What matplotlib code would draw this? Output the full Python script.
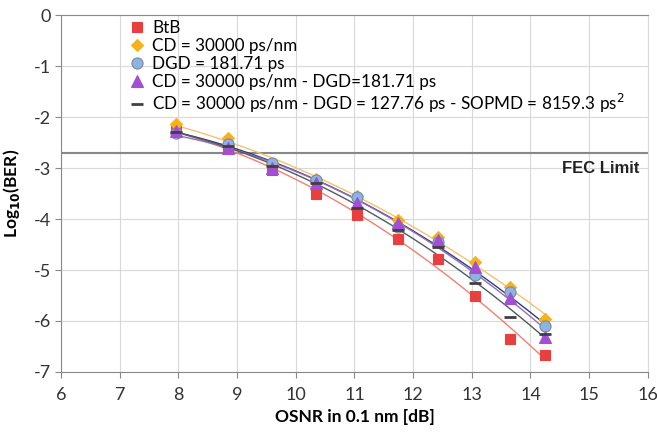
import numpy as np
import matplotlib.pyplot as plt

# OSNR values (dB) shared by all series
osnr = [7.95, 8.85, 9.6, 10.35, 11.05, 11.75, 12.42, 13.05, 13.65, 14.25]

ber_btb = [-2.28, -2.6, -3.04, -3.51, -3.92, -4.39, -4.78, -5.51, -6.35, -6.67]
ber_cd = [-2.14, -2.41, -2.92, -3.22, -3.55, -4.02, -4.35, -4.84, -5.33, -5.96]
ber_dgd = [-2.31, -2.53, -2.9, -3.24, -3.57, -4.16, -4.45, -5.1, -5.43, -6.1]
ber_cd_dgd = [-2.27, -2.61, -3.0, -3.3, -3.69, -4.08, -4.41, -4.94, -5.55, -6.31]
ber_cd_dgd_sopmd = [-2.3, -2.57, -2.95, -3.3, -3.78, -4.22, -4.55, -5.25, -5.92, -6.25]

fec_limit = -2.7

labels = [
    "BtB",
    "CD = 30000 ps/nm",
    "DGD = 181.71 ps",
    "CD = 30000 ps/nm - DGD=181.71 ps",
    "CD = 30000 ps/nm - DGD = 127.76 ps - SOPMD = 8159.3 ps$^2$",
]

series = [ber_btb, ber_cd, ber_dgd, ber_cd_dgd, ber_cd_dgd_sopmd]
styles = [
    dict(marker="s", color="#e8403f", mec="#e8403f", ms=7, line="#f08070"),
    dict(marker="D", color="#f5b21e", mec="#f5b21e", ms=6, line="#f7c070"),
    dict(marker="o", color="#8db3e2", mec="#7a8aa0", ms=8, line="#2f3d78"),
    dict(marker="^", color="#a24fd6", mec="#a24fd6", ms=8, line="#9070c0"),
    dict(marker="_", color="#404040", mec="#404040", ms=9, line="#505a60"),
]

plt.rcParams["font.family"] = ["Lato", "DejaVu Sans"]
plt.rcParams["axes.unicode_minus"] = False

fig = plt.figure(figsize=(6.57, 4.34), dpi=100)
ax = fig.add_axes([0.093, 0.143, 0.893, 0.822])

xs = np.linspace(min(osnr), max(osnr), 100)
for ys, st, lab in zip(series, styles, labels):
    # Excel-style polynomial trendline through each series
    coef = np.polyfit(osnr, ys, 2)
    ax.plot(xs, np.polyval(coef, xs), color=st["line"], lw=1.0, zorder=2)
    ax.plot(osnr, ys, ls="none", marker=st["marker"], color=st["color"],
            mec=st["mec"], ms=st["ms"], mew=2 if st["marker"] == "_" else 0.8,
            label=lab, zorder=3)

ax.axhline(fec_limit, color="#888888", lw=1.5, zorder=1)
ax.text(15.85, fec_limit - 0.17, "FEC Limit", ha="right", va="top",
        fontsize=12, fontweight="bold", family="Liberation Sans", color="#222222")

ax.set_xlim(6, 16)
ax.set_ylim(-7, 0)
ax.set_xticks(range(6, 17))
ax.set_yticks(range(-7, 1))
ax.grid(True, color="#d9d9d9", lw=0.8)
ax.set_axisbelow(True)
for s in ["left", "bottom", "top"]:
    ax.spines[s].set_color("#888888")
ax.spines["right"].set_color("#d9d9d9")
ax.tick_params(labelsize=13, colors="#888888", labelcolor="#333333", length=4)
ax.tick_params(axis="x", pad=7)

ax.set_xlabel("OSNR in 0.1 nm [dB]", fontsize=12.5, fontweight="bold", labelpad=4)
ax.set_ylabel("Log$_{\\mathbf{10}}$(BER)", fontsize=12.5, fontweight="bold", labelpad=8)

ax.legend(loc="upper left", bbox_to_anchor=(0.1, 1.015), frameon=False,
          fontsize=12.3, handlelength=0.8, handletextpad=0.5, labelspacing=0.12,
          borderaxespad=0.2)

fig.savefig("out.png", dpi=100)
